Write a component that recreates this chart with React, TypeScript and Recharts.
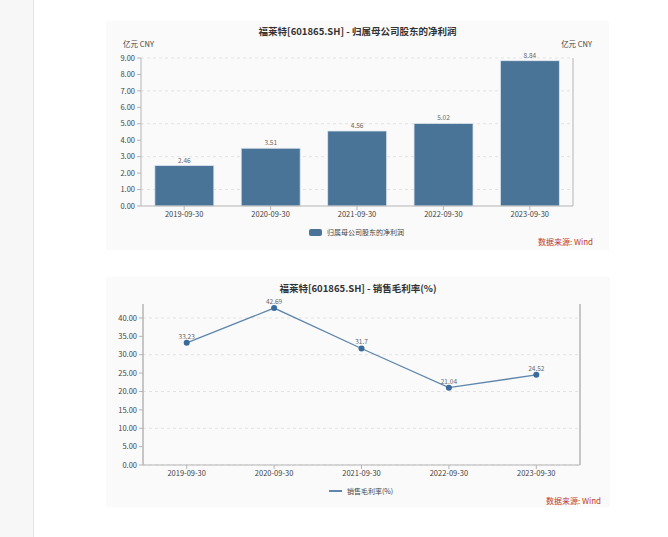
import React from "react";
import {
  Bar,
  BarChart,
  CartesianGrid,
  LabelList,
  Line,
  LineChart,
  XAxis,
  YAxis,
} from "recharts";

const dates = ["2019-09-30", "2020-09-30", "2021-09-30", "2022-09-30", "2023-09-30"];
const netProfit = [2.46, 3.51, 4.56, 5.02, 8.84];
const grossMargin = [33.23, 42.69, 31.7, 21.04, 24.52];
const profitTicks = [0, 1, 2, 3, 4, 5, 6, 7, 8, 9];
const marginTicks = [0, 5, 10, 15, 20, 25, 30, 35, 40];

const profitTitle = "福莱特[601865.SH] - 归属母公司股东的净利润";
const profitName = "归属母公司股东的净利润";
const marginTitle = "福莱特[601865.SH] - 销售毛利率(%)";
const marginName = "销售毛利率(%)";
const unitLabel = "亿元  CNY";
const sourceLabel = "数据来源: Wind";

const FONT = '"Noto Sans CJK SC", "Noto Sans", sans-serif';
const BAR_COLOR = "#4a7398";
const LINE_COLOR = "#5f87ad";
const DOT_COLOR = "#3b6a9c";
const AXIS_COLOR = "#b5b5b5";
const TICK = {fontSize: 7.5, fill: "#444", fontFamily: FONT};

const fmt = (v: number) => v.toFixed(2);

const profitData = dates.map((d, i) => ({date: d, value: netProfit[i]}));
const marginData = dates.map((d, i) => ({date: d, value: grossMargin[i]}));

function Text(props: {left?: number, right?: number, top: number, size?: number, color?: string, bold?: boolean, center?: boolean, children: React.ReactNode}) {
  const {left, right, top, size = 7.5, color = "#444", bold = false, center = false, children} = props
  return (
    <div style={{
      position: "absolute",
      left: center ? 0 : left,
      right: center ? 0 : right,
      top,
      fontSize: size,
      color,
      fontWeight: bold ? 700 : 400,
      fontFamily: FONT,
      textAlign: center ? "center" : undefined,
      lineHeight: 1,
      whiteSpace: "nowrap",
    }}>{children}</div>
  )
}

function ProfitPanel() {
  return (
    <div style={{position: "absolute", left: 106, top: 21, width: 503, height: 229, background: "#fafafa"}}>
      <BarChart width={503} height={229} data={profitData} barCategoryGap="16%"
                margin={{top: 37, right: 0, bottom: 24, left: 0}}>
        <CartesianGrid yAxisId="left" vertical={false} horizontalValues={profitTicks}
                       stroke="#e2e2e2" strokeDasharray="3 3"/>
        <XAxis dataKey="date" height={20} tick={TICK} tickLine={{stroke: AXIS_COLOR}} tickSize={4}
               axisLine={{stroke: AXIS_COLOR}} interval={0}/>
        <YAxis yAxisId="left" orientation="left" width={35} domain={[0, 9]} ticks={profitTicks}
               tickFormatter={fmt} tick={TICK} tickSize={4} tickLine={{stroke: AXIS_COLOR}}
               axisLine={{stroke: AXIS_COLOR}}/>
        <YAxis yAxisId="right" orientation="right" width={36} domain={[0, 9]} ticks={profitTicks}
               tickFormatter={fmt} tick={TICK} tickSize={4} tickLine={{stroke: AXIS_COLOR}}
               axisLine={{stroke: AXIS_COLOR}}/>
        <Bar yAxisId="left" dataKey="value" fill={BAR_COLOR} stroke="#dfe8f0" strokeWidth={0.8}
             isAnimationActive={false}>
          <LabelList dataKey="value" position="top" offset={3} fontSize={6.5} fill="#666" fontFamily={FONT}/>
        </Bar>
      </BarChart>
      <Text center top={6} size={9.5} color="#333" bold>{profitTitle}</Text>
      <Text left={17} top={19}>{unitLabel}</Text>
      <Text right={17} top={19}>{unitLabel}</Text>
      <div style={{position: "absolute", left: 203, top: 206, display: "flex", alignItems: "center", gap: 5}}>
        <div style={{width: 13, height: 7, background: BAR_COLOR, borderRadius: 2}}/>
        <span style={{fontSize: 7, color: "#444", fontFamily: FONT}}>{profitName}</span>
      </div>
      <Text right={16} top={217} size={8} color="#c0392b">{sourceLabel}</Text>
    </div>
  )
}

function MarginPanel() {
  return (
    <div style={{position: "absolute", left: 106, top: 277, width: 504, height: 230, background: "#fafafa"}}>
      <LineChart width={504} height={230} data={marginData}
                 margin={{top: 27, right: 0, bottom: 22, left: 0}}>
        <CartesianGrid yAxisId="left" vertical={false} horizontalValues={marginTicks}
                       stroke="#e2e2e2" strokeDasharray="3 3"/>
        <XAxis dataKey="date" height={20} tick={TICK} tickLine={{stroke: AXIS_COLOR}} tickSize={4}
               axisLine={{stroke: AXIS_COLOR}} interval={0} padding={{left: 43.7, right: 43.7}}/>
        <YAxis yAxisId="left" orientation="left" width={37} domain={[0, 43.8]} ticks={marginTicks}
               tickFormatter={fmt} tick={TICK} tickSize={4} tickLine={{stroke: AXIS_COLOR}}
               axisLine={{stroke: AXIS_COLOR, strokeWidth: 1.5}}/>
        <YAxis yAxisId="right" orientation="right" width={30} domain={[0, 43.8]} ticks={marginTicks}
               tickFormatter={fmt} tick={TICK} tickSize={4} tickLine={{stroke: AXIS_COLOR}}
               axisLine={{stroke: AXIS_COLOR, strokeWidth: 1.5}}/>
        <Line yAxisId="left" type="linear" dataKey="value" stroke={LINE_COLOR} strokeWidth={1.3}
              dot={{r: 3, fill: DOT_COLOR, stroke: DOT_COLOR, strokeWidth: 0}}
              isAnimationActive={false}>
          <LabelList dataKey="value" position="top" offset={4} fontSize={6.5} fill="#666" fontFamily={FONT}/>
        </Line>
      </LineChart>
      <Text center top={7} size={9.5} color="#333" bold>{marginTitle}</Text>
      <div style={{position: "absolute", left: 223, top: 209, display: "flex", alignItems: "center", gap: 5}}>
        <div style={{width: 13, height: 1.5, background: LINE_COLOR}}/>
        <span style={{fontSize: 7, color: "#444", fontFamily: FONT}}>{marginName}</span>
      </div>
      <Text right={9} top={220} size={8} color="#c0392b">{sourceLabel}</Text>
    </div>
  )
}

export default function App() {
  return (
    <div style={{position: "absolute", left: 0, top: 0, width: 668, height: 537, background: "#fff", overflow: "hidden"}}>
      <div style={{position: "absolute", left: 0, top: 0, width: 33, height: 537, background: "#f7f7f7", borderRight: "1px solid #e3e3e3"}}/>
      <ProfitPanel/>
      <MarginPanel/>
    </div>
  )
}
